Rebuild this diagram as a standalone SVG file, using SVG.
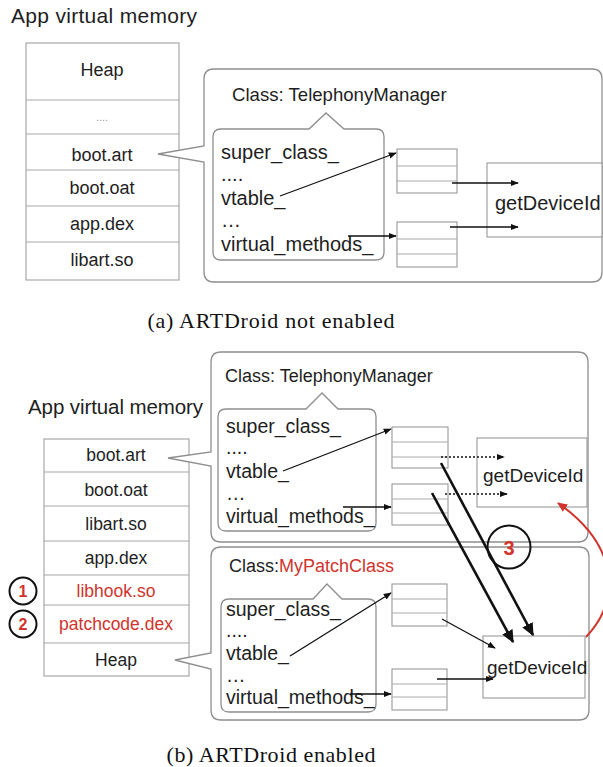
<svg xmlns="http://www.w3.org/2000/svg" width="603" height="767" viewBox="0 0 603 767">
<style>
text{font-family:"Liberation Sans",Arial,sans-serif;fill:#1e1e1e}
.cap{font-family:"Liberation Serif","Times New Roman",serif;font-size:22px;fill:#111}
.mem{fill:#fff;stroke:#a8a8a8;stroke-width:1.2}
.ln{stroke:#a8a8a8;stroke-width:1.2;fill:none}
.call{fill:#fff;stroke:#8e8e8e;stroke-width:1.3}
.tbl{fill:#fff;stroke:#999;stroke-width:1.1}
.tl{stroke:#aaa;stroke-width:1}
.row{font-size:18px;text-anchor:middle}
.row2{font-size:17.5px;text-anchor:middle}
.fld{font-size:20px}
.fld2{font-size:19.5px}
.red{fill:#d0342c}
.arr{stroke:#111;stroke-width:1.3;fill:none;marker-end:url(#ah)}
.dot{stroke:#111;stroke-width:1.3;fill:none;stroke-dasharray:2 2;marker-end:url(#ah)}
.thick{stroke:#111;stroke-width:2.6;fill:none;marker-end:url(#ahb)}
</style>
<defs>
<marker id="ah" viewBox="0 0 10 10" refX="9" refY="5" markerWidth="8" markerHeight="8" markerUnits="userSpaceOnUse" orient="auto"><path d="M0,1 L10,5 L0,9 z" fill="#111"/></marker>
<marker id="ahb" viewBox="0 0 10 10" refX="9" refY="5" markerWidth="5" markerHeight="5" orient="auto"><path d="M0,0.5 L10,5 L0,9.5 z" fill="#111"/></marker>
<marker id="ahr" viewBox="0 0 10 10" refX="9" refY="5" markerWidth="5" markerHeight="5" orient="auto"><path d="M0,0.5 L10,5 L0,9.5 z" fill="#d0342c"/></marker>
</defs>

<!-- ===== (a) ===== -->
<g id="a-title"><text x="11" y="23" font-size="21" textLength="186">App virtual memory</text></g>
<g id="a-memory">
<rect class="mem" x="26" y="43" width="153" height="237"/>
<line class="ln" x1="26" y1="100" x2="179" y2="100"/>
<line class="ln" x1="26" y1="134" x2="179" y2="134"/>
<line class="ln" x1="26" y1="170" x2="179" y2="170"/>
<line class="ln" x1="26" y1="206" x2="179" y2="206"/>
<line class="ln" x1="26" y1="242" x2="179" y2="242"/>
<text class="row" x="102" y="76">Heap</text>
<text x="102" y="121" font-size="11" text-anchor="middle" style="fill:#999">....</text>
<text class="row" x="102" y="161">boot.art</text>
<text class="row" x="102" y="194">boot.oat</text>
<text class="row" x="102" y="230">app.dex</text>
<text class="row" x="102" y="266">libart.so</text>
</g>
<g id="a-class">
<path class="call" d="M214,69 H592 Q602,69 602,79 V272 Q602,282 592,282 H214 Q204,282 204,272 V162 L158,154 L204,146 V79 Q204,69 214,69 Z"/>
<text x="232" y="101" font-size="18.6">Class: TelephonyManager</text>
<path class="call" d="M221,129 H309 L326,113 L344,129 H376 Q384,129 384,137 V252 Q384,260 376,260 H221 Q213,260 213,252 V137 Q213,129 221,129 Z"/>
<text class="fld" x="221" y="159">super_class_</text>
<text class="fld" x="221" y="181">....</text>
<text class="fld" x="221" y="205">vtable_</text>
<text class="fld" x="221" y="227">…</text>
<text class="fld" x="221" y="251">virtual_methods_</text>
</g>
<g id="a-vtable">
<rect class="tbl" x="397" y="149" width="60" height="44"/>
<line class="tl" x1="397" y1="166" x2="457" y2="166"/>
<line class="tl" x1="397" y1="181" x2="457" y2="181"/>
</g>
<g id="a-vmethods">
<rect class="tbl" x="397" y="222" width="60" height="45"/>
<line class="tl" x1="397" y1="239" x2="457" y2="239"/>
<line class="tl" x1="397" y1="254" x2="457" y2="254"/>
</g>
<g id="a-getDeviceId">
<rect class="tbl" x="487" y="163" width="115" height="74"/>
<text x="495" y="210" font-size="20">getDeviceId</text>
</g>

<!-- ===== (b) ===== -->
<g id="b-title"><text x="28" y="414" font-size="20.5" textLength="175">App virtual memory</text></g>
<g id="b-memory">
<rect class="mem" x="44" y="439" width="145" height="237"/>
<line class="ln" x1="44" y1="472" x2="189" y2="472"/>
<line class="ln" x1="44" y1="506" x2="189" y2="506"/>
<line class="ln" x1="44" y1="541" x2="189" y2="541"/>
<line class="ln" x1="44" y1="575" x2="189" y2="575"/>
<line class="ln" x1="44" y1="605" x2="189" y2="605"/>
<line class="ln" x1="44" y1="643" x2="189" y2="643"/>
<text class="row2" x="116" y="461">boot.art</text>
<text class="row2" x="116" y="496">boot.oat</text>
<text class="row2" x="116" y="530">libart.so</text>
<text class="row2 red" x="116" y="597">libhook.so</text>
<text class="row2" x="116" y="564">app.dex</text>
<text class="row2 red" x="116" y="630">patchcode.dex</text>
<text class="row2" x="116" y="666">Heap</text>
</g>
<g id="step1">
<circle cx="23" cy="591" r="13.5" fill="#fff" stroke="#111" stroke-width="2"/>
<text x="23" y="597" font-size="16" font-weight="bold" text-anchor="middle" class="red">1</text>
</g>
<g id="step2">
<circle cx="23" cy="624" r="13.5" fill="#fff" stroke="#111" stroke-width="2"/>
<text x="23" y="630" font-size="16" font-weight="bold" text-anchor="middle" class="red">2</text>
</g>

<g id="b-class-telephony">
<path class="call" d="M221,352 H578 Q588,352 588,362 V532 Q588,542 578,542 H221 Q211,542 211,532 V466 L168,458 L211,452 V362 Q211,352 221,352 Z"/>
<text x="225" y="382" font-size="18">Class: TelephonyManager</text>
<path class="call" d="M226,409 H306 L322,393 L338,409 H368 Q376,409 376,417 V523 Q376,531 368,531 H226 Q218,531 218,523 V417 Q218,409 226,409 Z"/>
<text class="fld2" x="226" y="433">super_class_</text>
<text class="fld2" x="226" y="454">....</text>
<text class="fld2" x="226" y="478">vtable_</text>
<text class="fld2" x="226" y="500">…</text>
<text class="fld2" x="226" y="523">virtual_methods_</text>
</g>
<g id="b-vtable1">
<rect class="tbl" x="392" y="427" width="56" height="41"/>
<line class="tl" x1="392" y1="442" x2="448" y2="442"/>
<line class="tl" x1="392" y1="457" x2="448" y2="457"/>
</g>
<g id="b-vmethods1">
<rect class="tbl" x="392" y="484" width="56" height="41"/>
<line class="tl" x1="392" y1="499" x2="448" y2="499"/>
<line class="tl" x1="392" y1="513" x2="448" y2="513"/>
</g>
<g id="b-getDeviceId1">
<rect class="tbl" x="477" y="438" width="110" height="69"/>
<text x="483" y="482" font-size="19">getDeviceId</text>
</g>

<g id="b-class-patch">
<path class="call" d="M221,547 H579 Q589,547 589,557 V710 Q589,720 579,720 H221 Q211,720 211,710 V669 L175,660 L211,653 V557 Q211,547 221,547 Z"/>
<text x="229" y="572" font-size="18">Class:<tspan class="red">MyPatchClass</tspan></text>
<path class="call" d="M229,599 H313 L327,584 L342,599 H368 Q376,599 376,607 V704 Q376,712 368,712 H229 Q221,712 221,704 V607 Q221,599 229,599 Z"/>
<text class="fld2" x="226" y="616">super_class_</text>
<text class="fld2" x="226" y="637">....</text>
<text class="fld2" x="226" y="660">vtable_</text>
<text class="fld2" x="226" y="682">…</text>
<text class="fld2" x="226" y="704">virtual_methods_</text>
</g>
<g id="b-vtable2">
<rect class="tbl" x="392" y="584" width="55" height="42"/>
<line class="tl" x1="392" y1="599" x2="447" y2="599"/>
<line class="tl" x1="392" y1="613" x2="447" y2="613"/>
</g>
<g id="b-vmethods2">
<rect class="tbl" x="392" y="669" width="55" height="41"/>
<line class="tl" x1="392" y1="684" x2="447" y2="684"/>
<line class="tl" x1="392" y1="697" x2="447" y2="697"/>
</g>
<g id="b-getDeviceId2">
<rect class="tbl" x="483" y="636" width="102" height="62"/>
<text x="487" y="674" font-size="19">getDeviceId</text>
</g>

<g id="step3">
<circle cx="509" cy="547" r="21.5" fill="none" stroke="#111" stroke-width="2"/>
<text x="509" y="555" font-size="20" font-weight="bold" text-anchor="middle" class="red">3</text>
</g>

<g id="connectors">
<line class="arr" x1="280" y1="196" x2="396" y2="153"/>
<line class="arr" x1="348" y1="236" x2="396" y2="236"/>
<line class="arr" x1="452" y1="183" x2="518" y2="183"/>
<line class="arr" x1="450" y1="227" x2="518" y2="227"/>

<line class="arr" x1="283" y1="471" x2="391" y2="429"/>
<line class="arr" x1="343" y1="507" x2="391" y2="507"/>
<line class="dot" x1="441" y1="457" x2="504" y2="457"/>
<line class="dot" x1="445" y1="494" x2="507" y2="494"/>

<line class="arr" x1="290" y1="656" x2="391" y2="593"/>
<line class="arr" x1="350" y1="694" x2="391" y2="694"/>
<line class="arr" x1="442" y1="619" x2="495" y2="648"/>
<line class="arr" x1="437" y1="679" x2="493" y2="679"/>

<line class="thick" x1="441" y1="463" x2="533" y2="635"/>
<line class="thick" x1="432" y1="493" x2="513" y2="642"/>
<path d="M586,637 C622,600 618,545 558,503" fill="none" stroke="#d0342c" stroke-width="2" marker-end="url(#ahr)"/>
</g>

<g id="captions">
<text class="cap" x="271" y="328" text-anchor="middle" textLength="247">(a) ARTDroid not enabled</text>
<text class="cap" x="271" y="762" text-anchor="middle" textLength="209">(b) ARTDroid enabled</text>
</g>
</svg>
